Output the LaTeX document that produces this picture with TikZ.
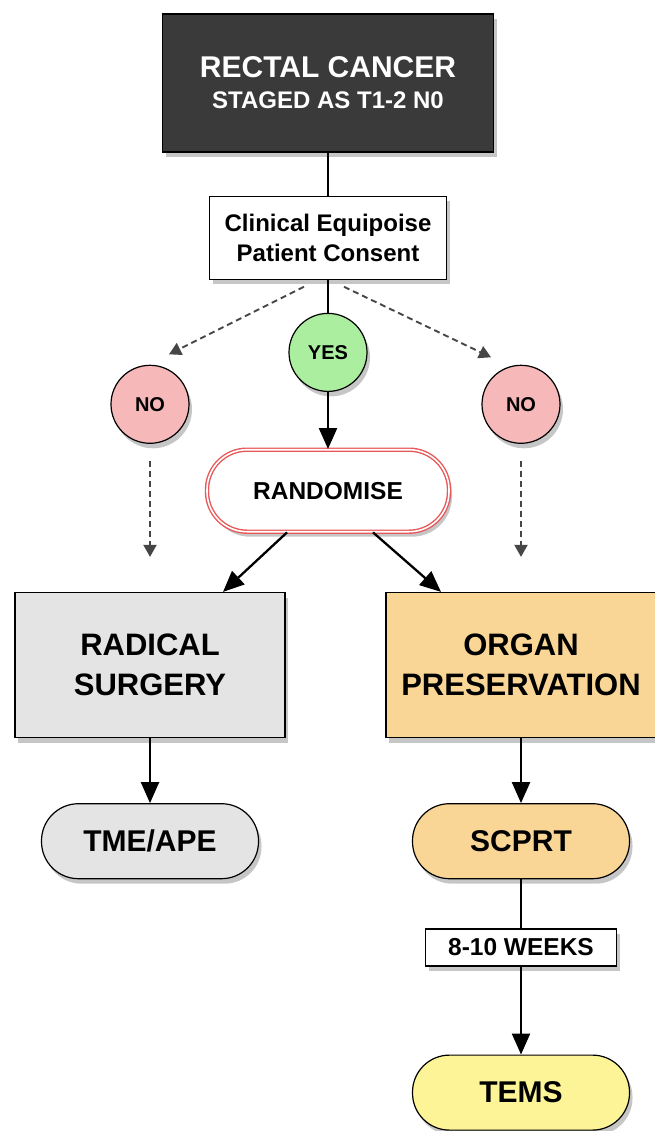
\documentclass[tikz,border=0pt]{standalone}
\usepackage{fontspec}
\setmainfont{Liberation Sans}
\usepackage{tikz}
\usetikzlibrary{
	positioning,
	arrows.meta,
	shadows
}
\definecolor{stagegray}{RGB}{58,58,58}
\definecolor{yesgreen}{RGB}{172,238,160}
\definecolor{nopink}{RGB}{246,184,184}
\definecolor{randred}{RGB}{232,88,88}
\definecolor{surggray}{RGB}{228,228,228}
\definecolor{organorange}{RGB}{250,214,150}
\definecolor{temsyellow}{RGB}{252,244,150}
\definecolor{dashgray}{RGB}{70,70,70}
\tikzset{
	every edge/.append style={
		line width=2.3pt,
		-{Triangle[length=21pt,width=18pt]}
	},
	soft shadow/.style={
		drop shadow={shadow xshift=3pt,shadow yshift=-5pt,opacity=.45}
	},
	flowbox/.style={
		soft shadow,
		rectangle,
		draw=black,
		line width=1.2pt,
		inner sep=0pt,
		align=center
	},
	titlebox/.style={
		flowbox,
		fill=stagegray,
		text=white,
		minimum width=331pt,
		minimum height=138pt,
		font=\bfseries\fontsize{30}{31}\selectfont
	},
	consentbox/.style={
		flowbox,
		fill=white,
		minimum width=237pt,
		minimum height=83pt,
		font=\bfseries\fontsize{24}{30}\selectfont
	},
	answer/.style={
		flowbox,
		circle,
		minimum size=78pt,
		font=\bfseries\fontsize{20}{20}\selectfont
	},
	randbox/.style={
		flowbox,
		draw=randred,
		double=white,
		double distance=1.6pt,
		line width=1.4pt,
		rounded corners=40pt,
		fill=white,
		minimum width=242pt,
		minimum height=82pt,
		font=\bfseries\fontsize{24.5}{24.5}\selectfont
	},
	armbox/.style={
		flowbox,
		minimum width=270pt,
		minimum height=145pt,
		font=\bfseries\fontsize{31}{40}\selectfont
	},
	pill/.style={
		flowbox,
		rounded corners=37pt,
		minimum width=217pt,
		minimum height=75pt,
		font=\bfseries\fontsize{30}{30}\selectfont
	},
	weeksbox/.style={
		flowbox,
		fill=white,
		minimum width=191pt,
		minimum height=37pt,
		font=\bfseries\fontsize{24.5}{24.5}\selectfont
	},
	dashy/.style={
		draw=dashgray,
		dash pattern=on 6pt off 4pt,
		line width=1.9pt,
		-{Triangle[length=12pt,width=13pt]}
	}
}

\begin{document}
\begin{tikzpicture}[x=1pt,y=-1pt]
	\useasboundingbox (0,0) rectangle (655,1131);
	\draw
		node[titlebox] at (328,83)                 (cancer)  {RECTAL CANCER\\{\fontsize{24}{24}\selectfont STAGED AS T1-2 N0}}
		node[consentbox,below=43pt of cancer]      (consent) {Clinical Equipoise\\Patient Consent}
		node[answer,fill=yesgreen,below=33pt of consent] (yes) {YES}
		node[randbox,below=57pt of yes]            (rand)    {RANDOMISE}
		node[armbox,fill=surggray] at (150,665)    (radical) {RADICAL\\SURGERY}
		node[armbox,fill=organorange] at (521,665) (organ)   {ORGAN\\PRESERVATION}
		node[answer,fill=nopink,above=148pt of radical] (noL) {NO}
		node[answer,fill=nopink,above=148pt of organ]   (noR) {NO}
		node[pill,fill=surggray,below=65pt of radical]   (tme)   {TME/APE}
		node[pill,fill=organorange,below=65pt of organ]  (scprt) {SCPRT}
		node[weeksbox,below=49pt of scprt]               (weeks) {8-10 WEEKS}
		node[pill,fill=temsyellow,below=88pt of weeks]   (tems)  {TEMS}
	;
	\coordinate (tipL) at ([xshift=19pt,yshift=50pt]noL.center);
	\coordinate (tipR) at ([xshift=-30pt,yshift=47pt]noR.center);
	\draw
		(cancer) edge[-] (consent)
		(consent) edge[-] (yes)
		(yes) edge (rand)
		([xshift=-24pt,yshift=-7pt]consent.south) edge[dashy] (tipL)
		([xshift=16pt,yshift=-7pt]consent.south)  edge[dashy] (tipR)
		(noL) edge[dashy,shorten <=17pt,shorten >=35pt] (radical)
		(noR) edge[dashy,shorten <=17pt,shorten >=35pt] (organ)
		([xshift=-41pt]rand.south) edge ([xshift=73pt]radical.north)
		([xshift=45pt]rand.south)  edge ([xshift=-80pt]organ.north)
		(radical) edge (tme)
		(organ) edge (scprt)
		(scprt) edge[-] (weeks)
		(weeks) edge (tems)
	;
\end{tikzpicture}
\end{document}
